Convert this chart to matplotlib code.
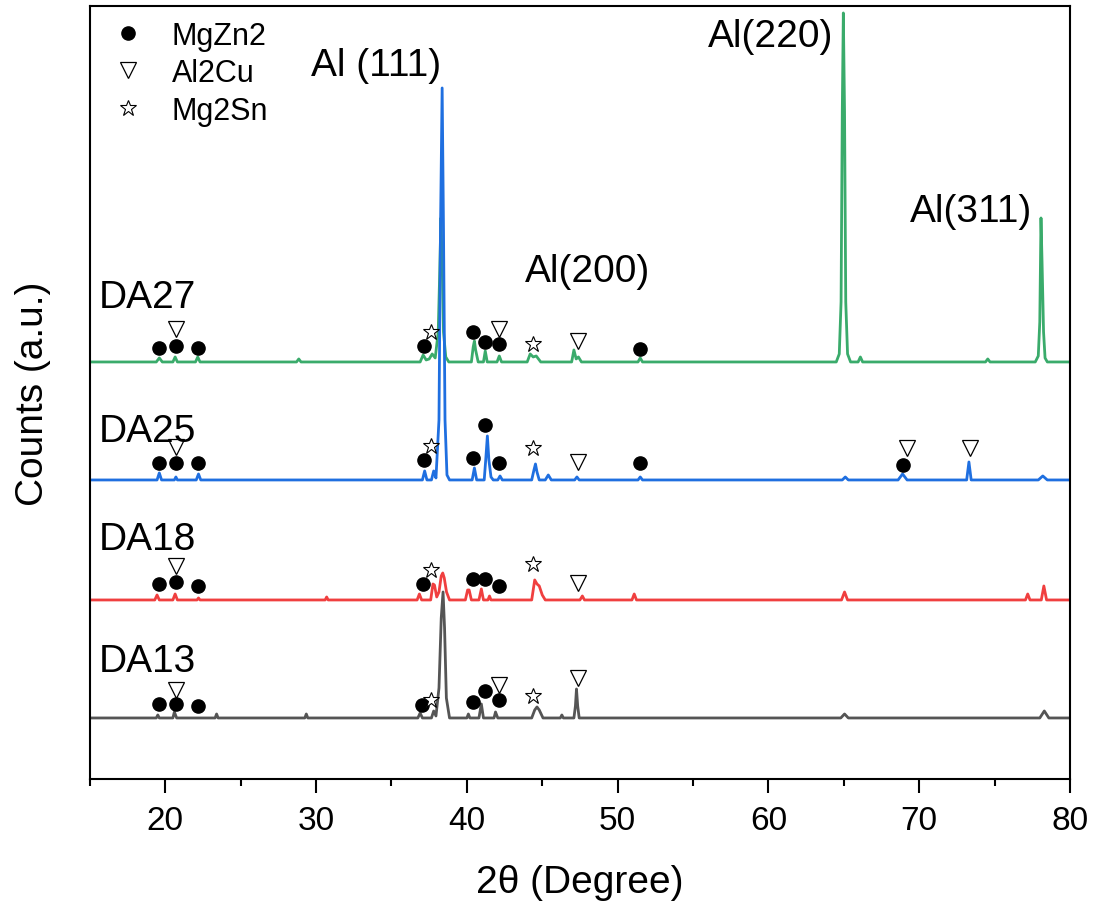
import matplotlib
matplotlib.use("Agg")
import numpy as np
import matplotlib.pyplot as plt
from matplotlib.ticker import MultipleLocator

plt.rcParams['font.family'] = ['Liberation Sans', 'DejaVu Sans']

# stacked XRD patterns, intensity above each baseline (a.u.)
samples = ['DA27', 'DA25', 'DA18', 'DA13']
offsets = [417, 299, 179, 61]
colors = ['#3aab6b', '#1f6fe0', '#f03f3f', '#555555']

da27_x = [15, 19.4, 19.6, 19.8, 20.5, 20.65, 20.8, 22.0, 22.15, 22.3, 28.7, 28.85, 29.0,
          36.9, 37.1, 37.3, 37.5, 37.7, 37.9, 38.1, 38.2, 38.28, 38.36, 38.45, 38.6, 38.8,
          40.3, 40.42, 40.5, 40.58, 40.75, 41.1, 41.22, 41.35, 42.0, 42.15, 42.3,
          44.0, 44.2, 44.4, 44.6, 44.9, 46.95, 47.1, 47.25, 47.4, 47.6, 51.35, 51.5, 51.65,
          64.5, 64.7, 64.82, 64.9, 64.97, 65.05, 65.13, 65.25, 65.45, 65.95, 66.1, 66.25,
          74.4, 74.55, 74.7, 77.7, 77.9, 78.0, 78.08, 78.15, 78.25, 78.35, 78.5, 80]
da27_y = [0, 0, 4, 0, 0, 5, 0, 0, 5, 0, 0, 3, 0,
          0, 7, 2, 3, 8, 4, 30, 90, 144, 100, 30, 5, 0,
          0, 15, 21, 12, 0, 0, 11, 0, 0, 6, 0,
          0, 8, 5, 6, 0, 0, 12, 3, 5, 0, 0, 4, 0,
          0, 8, 60, 250, 349, 250, 60, 8, 0, 0, 5, 0,
          0, 3, 0, 0, 6, 40, 144, 100, 30, 4, 0, 0]

da25_x = [15, 19.45, 19.6, 19.75, 20.6, 20.7, 20.8, 22.05, 22.2, 22.35,
          37.05, 37.2, 37.35, 37.65, 37.8, 37.95, 38.15, 38.25, 38.36, 38.45, 38.55, 38.68, 38.85,
          40.35, 40.5, 40.65, 41.15, 41.25, 41.36, 41.46, 41.6, 41.75, 42.05, 42.2, 42.35,
          44.3, 44.45, 44.55, 44.65, 44.8, 45.2, 45.4, 45.6, 47.15, 47.3, 47.45, 51.35, 51.5, 51.65,
          64.9, 65.1, 65.3, 68.6, 68.9, 69.2, 73.15, 73.3, 73.45, 77.9, 78.2, 78.5, 80]
da25_y = [0, 0, 7, 0, 0, 3, 0, 0, 6, 0,
          0, 9, 0, 0, 9, 2, 60, 250, 392, 250, 60, 5, 0,
          0, 12, 0, 0, 20, 44, 20, 3, 0, 0, 4, 0,
          0, 10, 16, 8, 0, 0, 5, 0, 0, 3, 0, 0, 3, 0,
          0, 3, 0, 0, 6, 0, 0, 18, 0, 0, 4, 0, 0]

da18_x = [15, 19.3, 19.45, 19.6, 20.5, 20.65, 20.8, 22.1, 22.2, 22.3, 30.6, 30.7, 30.8,
          36.7, 36.85, 37.0, 37.6, 37.75, 37.85, 38.0, 38.15, 38.3, 38.4, 38.5, 38.65, 38.85,
          39.9, 40.05, 40.15, 40.3, 40.8, 40.96, 41.1, 41.4, 41.5, 41.6,
          44.3, 44.5, 44.65, 44.8, 45.0, 45.2, 47.5, 47.66, 47.8, 50.95, 51.1, 51.25,
          64.85, 65.05, 65.25, 77.05, 77.2, 77.35, 78.1, 78.27, 78.45, 80]
da18_y = [0, 0, 5, 0, 0, 6, 0, 0, 2, 0, 0, 3, 0,
          0, 6, 0, 0, 16, 15, 3, 8, 24, 27, 22, 8, 0,
          0, 10, 10, 0, 0, 11, 0, 0, 4, 0,
          0, 20, 16, 14, 5, 0, 0, 4, 0, 0, 6, 0,
          0, 8, 0, 0, 6, 0, 0, 14, 0, 0]

da13_x = [15, 19.4, 19.5, 19.6, 20.5, 20.6, 20.75, 23.3, 23.4, 23.5, 29.25, 29.35, 29.45,
          36.75, 36.9, 37.05, 37.65, 37.8, 37.95, 38.15, 38.3, 38.42, 38.52, 38.64, 38.85,
          40.0, 40.1, 40.2, 40.8, 40.96, 41.1, 41.8, 41.9, 42.05,
          44.3, 44.5, 44.65, 44.8, 45.05, 46.2, 46.3, 46.4, 47.1, 47.2, 47.27, 47.35, 47.45,
          64.8, 65.05, 65.3, 78.0, 78.3, 78.6, 80]
da13_y = [0, 0, 3, 0, 0, 6, 0, 0, 4, 0, 0, 4, 0,
          0, 5, 0, 0, 7, 2, 30, 100, 126, 90, 20, 0,
          0, 4, 0, 0, 14, 0, 0, 6, 0,
          0, 8, 11, 8, 0, 0, 3, 0, 0, 12, 29, 12, 0,
          0, 4, 0, 0, 7, 0, 0]

traces_x = [da27_x, da25_x, da18_x, da13_x]
traces_y = [da27_y, da25_y, da18_y, da13_y]

# phase markers (2theta, stacked intensity)
mgzn2_x = [19.6, 20.7, 22.15, 37.15, 40.4, 41.2, 42.15, 51.5,
           19.6, 20.7, 22.15, 37.15, 40.4, 41.2, 42.15, 51.5, 68.9,
           19.6, 20.7, 22.15, 37.1, 40.4, 41.2, 42.15,
           19.6, 20.7, 22.15, 37.05, 40.4, 41.2, 42.15]
mgzn2_y = [431, 433, 431, 433, 447, 437, 435, 430,
           316, 316, 316, 319, 321, 354, 316, 316, 314,
           195, 197, 193, 195, 200, 200, 193,
           75, 75, 73, 74, 77, 88, 79]
al2cu_x = [20.7, 42.1, 47.35, 20.7, 47.35, 69.2, 73.4, 20.7, 47.35, 20.7, 42.1, 47.35]
al2cu_y = [450, 450, 438, 332, 317, 331, 331, 213, 196, 89, 94, 101]
mg2sn_x = [37.6, 44.4, 37.6, 44.4, 37.6, 44.4, 37.65, 44.4]
mg2sn_y = [447, 435, 333, 331, 209, 215, 79, 83]

peak_labels = ['Al (111)', 'Al(200)', 'Al(220)', 'Al(311)']
peak_label_x = [29.67, 43.82, 55.97, 69.38]
peak_label_y = [704, 498, 733, 558]

fig = plt.figure(figsize=(10.93, 9.04), dpi=100)
ax = fig.add_axes([0.0823, 0.1372, 0.8966, 0.8551])

for xs, ys, off, c in zip(traces_x, traces_y, offsets, colors):
    ax.plot(xs, np.array(ys) + off, color=c, lw=2.0, zorder=2)

ax.plot(mgzn2_x, mgzn2_y, 'o', color='black', ms=9.5, ls='none', label='MgZn2', zorder=3)
ax.plot(al2cu_x, al2cu_y, 'v', mfc='white', mec='black', mew=0.9, ms=11,
        ls='none', label='Al2Cu', zorder=3)
ax.plot(mg2sn_x, mg2sn_y, '*', mfc='white', mec='black', mew=0.8, ms=12,
        ls='none', label='Mg2Sn', zorder=3)

label_y = [472, 338, 230, 108]
for name, ly in zip(samples, label_y):
    ax.text(15.6, ly, name, fontsize=28, ha='left', va='baseline')

for t, lx, ly in zip(peak_labels, peak_label_x, peak_label_y):
    ax.text(lx, ly, t, fontsize=28, ha='left', va='baseline')

ax.legend(loc='upper left', bbox_to_anchor=(0.0, 0.993), frameon=False, fontsize=22,
          borderaxespad=0.15, borderpad=0.15, handlelength=1.9, handletextpad=0.47,
          labelspacing=0.25)

ax.set_xlim(15, 80)
ax.set_ylim(0, 773)
ax.xaxis.set_major_locator(MultipleLocator(10))
ax.xaxis.set_minor_locator(MultipleLocator(5))
ax.set_yticks([])
ax.tick_params(axis='x', which='major', direction='out', length=10, width=1.5,
               labelsize=24, pad=9)
ax.tick_params(axis='x', which='minor', direction='out', length=5, width=1.5)
for s in ax.spines.values():
    s.set_linewidth(1.5)

ax.set_xlabel('2θ (Degree)', fontsize=28, labelpad=20)
ax.set_ylabel('Counts (a.u.)', fontsize=28, labelpad=28)

fig.savefig('out.png', dpi=100)
